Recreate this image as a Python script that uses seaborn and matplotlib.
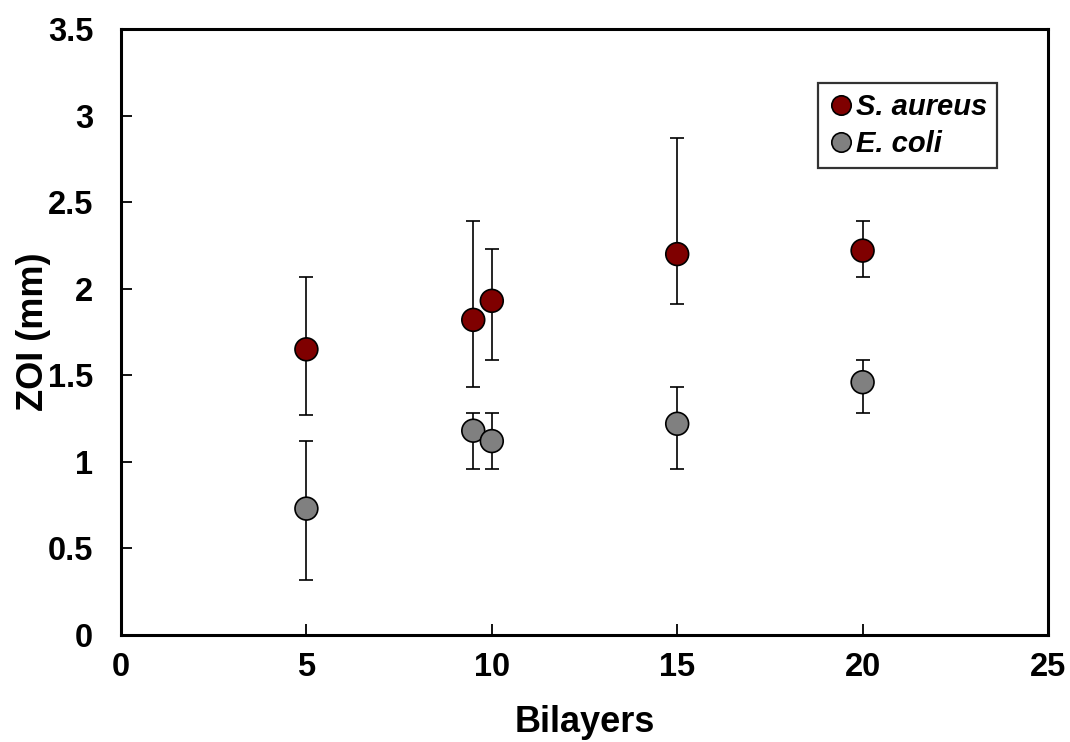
import numpy as np
import pandas as pd
import matplotlib
matplotlib.use("Agg")
import matplotlib.pyplot as plt
import seaborn as sns
from matplotlib.ticker import FuncFormatter

bilayers = [5, 9.5, 10, 15, 20]
sa_mean = [1.65, 1.82, 1.93, 2.20, 2.22]
sa_upper = [2.07, 2.39, 2.23, 2.87, 2.39]
sa_lower = [1.27, 1.43, 1.59, 1.91, 2.07]
ec_mean = [0.73, 1.18, 1.12, 1.22, 1.46]
ec_upper = [1.12, 1.28, 1.28, 1.43, 1.59]
ec_lower = [0.32, 0.96, 0.96, 0.96, 1.28]
species = ["S. aureus", "E. coli"]
colors = ["#7f0000", "#808080"]

sns.set_theme(style="white")
plt.rcParams['font.family'] = ['Liberation Sans', 'DejaVu Sans']
plt.rcParams['text.color'] = 'black'
plt.rcParams['axes.labelcolor'] = 'black'
plt.rcParams['xtick.color'] = 'black'
plt.rcParams['ytick.color'] = 'black'

df = pd.DataFrame({
    "Bilayers": bilayers * 2,
    "ZOI": sa_mean + ec_mean,
    "Species": [species[0]] * 5 + [species[1]] * 5,
})

fig = plt.figure(figsize=(10.7, 7.42), dpi=100)
ax = fig.add_axes([121 / 1070, 107 / 742, 927 / 1070, 606 / 742])

for mean, up, lo in [(sa_mean, sa_upper, sa_lower), (ec_mean, ec_upper, ec_lower)]:
    m = np.array(mean)
    yerr = [m - np.array(lo), np.array(up) - m]
    ax.errorbar(bilayers, m, yerr=yerr, fmt="none", ecolor="black",
                elinewidth=1.2, capsize=5, capthick=1.2, zorder=1)

sns.scatterplot(data=df, x="Bilayers", y="ZOI", hue="Species",
                palette=colors, s=270, edgecolor="black", linewidth=1.2,
                ax=ax, zorder=3)

ax.set_xlim(0, 25)
ax.set_ylim(0, 3.5)
ax.set_xticks([0, 5, 10, 15, 20, 25])
ax.set_yticks(np.arange(0, 3.51, 0.5))
ax.yaxis.set_major_formatter(FuncFormatter(lambda v, p: f"{v:g}"))
ax.tick_params(direction="in", length=8, width=1.3, labelsize=23.5,
               bottom=True, left=True, top=False, right=False)
ax.tick_params(axis="x", pad=12)
ax.tick_params(axis="y", pad=20)
for lab in ax.get_xticklabels() + ax.get_yticklabels():
    lab.set_fontweight("bold")
for sp in ax.spines.values():
    sp.set_linewidth(2.2)
    sp.set_color("black")

ax.set_xlabel("Bilayers", fontsize=26, fontweight="bold", labelpad=16)
ax.set_ylabel("ZOI (mm)", fontsize=26, fontweight="bold", labelpad=-2)

leg = ax.legend(loc="upper left", bbox_to_anchor=(0.752, 0.911),
                borderaxespad=0, frameon=True, fancybox=False,
                prop={"size": 21, "weight": "bold", "style": "italic"},
                handletextpad=0.05, borderpad=0.35, labelspacing=0.3,
                markerscale=0.85, handlelength=0.9)
leg.get_frame().set_edgecolor("black")
leg.get_frame().set_linewidth(1.6)
leg.set_title(None)

fig.savefig("out.png", dpi=100)
